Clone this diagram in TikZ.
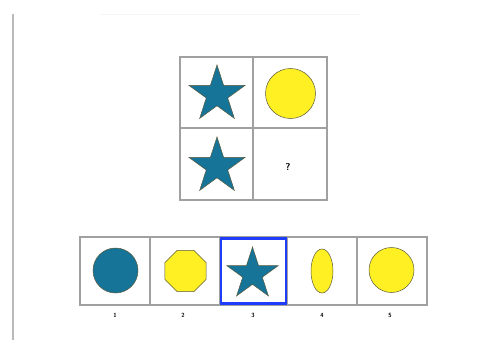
\documentclass[tikz,border=0pt]{standalone}
\usetikzlibrary{shapes.geometric}
\definecolor{tealblue}{RGB}{22,116,152}
\definecolor{sunyellow}{RGB}{255,240,35}
\definecolor{gridgray}{RGB}{160,160,160}
\definecolor{shapeedge}{RGB}{90,90,60}
\definecolor{selblue}{RGB}{30,60,250}
\begin{document}
\begin{tikzpicture}[x=1pt,y=-1pt,
  cellbox/.style={draw=gridgray,line width=1.1pt,fill=white,minimum width=#1,minimum height=71pt,inner sep=0pt},
  bluestar/.style={star,star points=5,star point ratio=2.618,fill=tealblue,draw=shapeedge,line width=0.5pt,inner sep=0pt,minimum size=#1},
  yellowshape/.style={fill=sunyellow,draw=shapeedge,line width=0.5pt,inner sep=0pt},
  numlabel/.style={font=\sffamily\fontsize{6}{6}\selectfont\bfseries,inner sep=0pt}
]
\useasboundingbox (0,0) rectangle (482,340);
% left edge line and faint top line
\draw[line width=2pt,draw=gray!55] (13,14) -- (13,340);
\draw[line width=0.8pt,draw=gray!8] (100,14) -- (360,14);
% top 2x2 grid
\node[cellbox=73pt,minimum height=71pt] (g11) at (216.5,92.5) {};
\node[cellbox=74pt,minimum height=71pt] (g12) at (290,92.5) {};
\node[cellbox=73pt,minimum height=72pt] (g21) at (216.5,164) {};
\node[cellbox=74pt,minimum height=72pt] (g22) at (290,164) {};
\node[bluestar=59pt] (s1) at (217,94.5) {};
\node[yellowshape,circle,minimum size=50pt] (c1) at (290.5,93.5) {};
\node[bluestar=59pt] (s2) at (217,166.5) {};
\node[font=\sffamily\bfseries\fontsize{10}{10}\selectfont,inner sep=0pt] (q) at (288,167) {?};
% bottom row of options
\node[cellbox=70pt,minimum height=68pt] (o1) at (115,271) {};
\node[cellbox=70pt,minimum height=68pt] (o2) at (185,271) {};
\node[cellbox=67pt,minimum height=68pt] (o3) at (253.5,271) {};
\node[cellbox=70pt,minimum height=68pt] (o4) at (322,271) {};
\node[cellbox=70pt,minimum height=68pt] (o5) at (392,271) {};
\node[draw=selblue,line width=2.6pt,minimum width=65pt,minimum height=65pt,inner sep=0pt] (sel) at (253.5,271) {};
\node[circle,fill=tealblue,draw=shapeedge,line width=0.5pt,inner sep=0pt,minimum size=45pt] (a1) at (115.5,270.5) {};
\node[yellowshape,regular polygon,regular polygon sides=8,minimum size=44.5pt] (a2) at (185.5,271) {};
\node[bluestar=54pt] (a3) at (252.5,274) {};
\node[yellowshape,ellipse,minimum width=22pt,minimum height=44pt] (a4) at (322,271) {};
\node[yellowshape,circle,minimum size=45pt] (a5) at (391.5,270) {};
\node[numlabel] (n1) at (115,315) {1};
\node[numlabel] (n2) at (183,315) {2};
\node[numlabel] (n3) at (253,315) {3};
\node[numlabel] (n4) at (322,315) {4};
\node[numlabel] (n5) at (390,315) {5};
\end{tikzpicture}
\end{document}
